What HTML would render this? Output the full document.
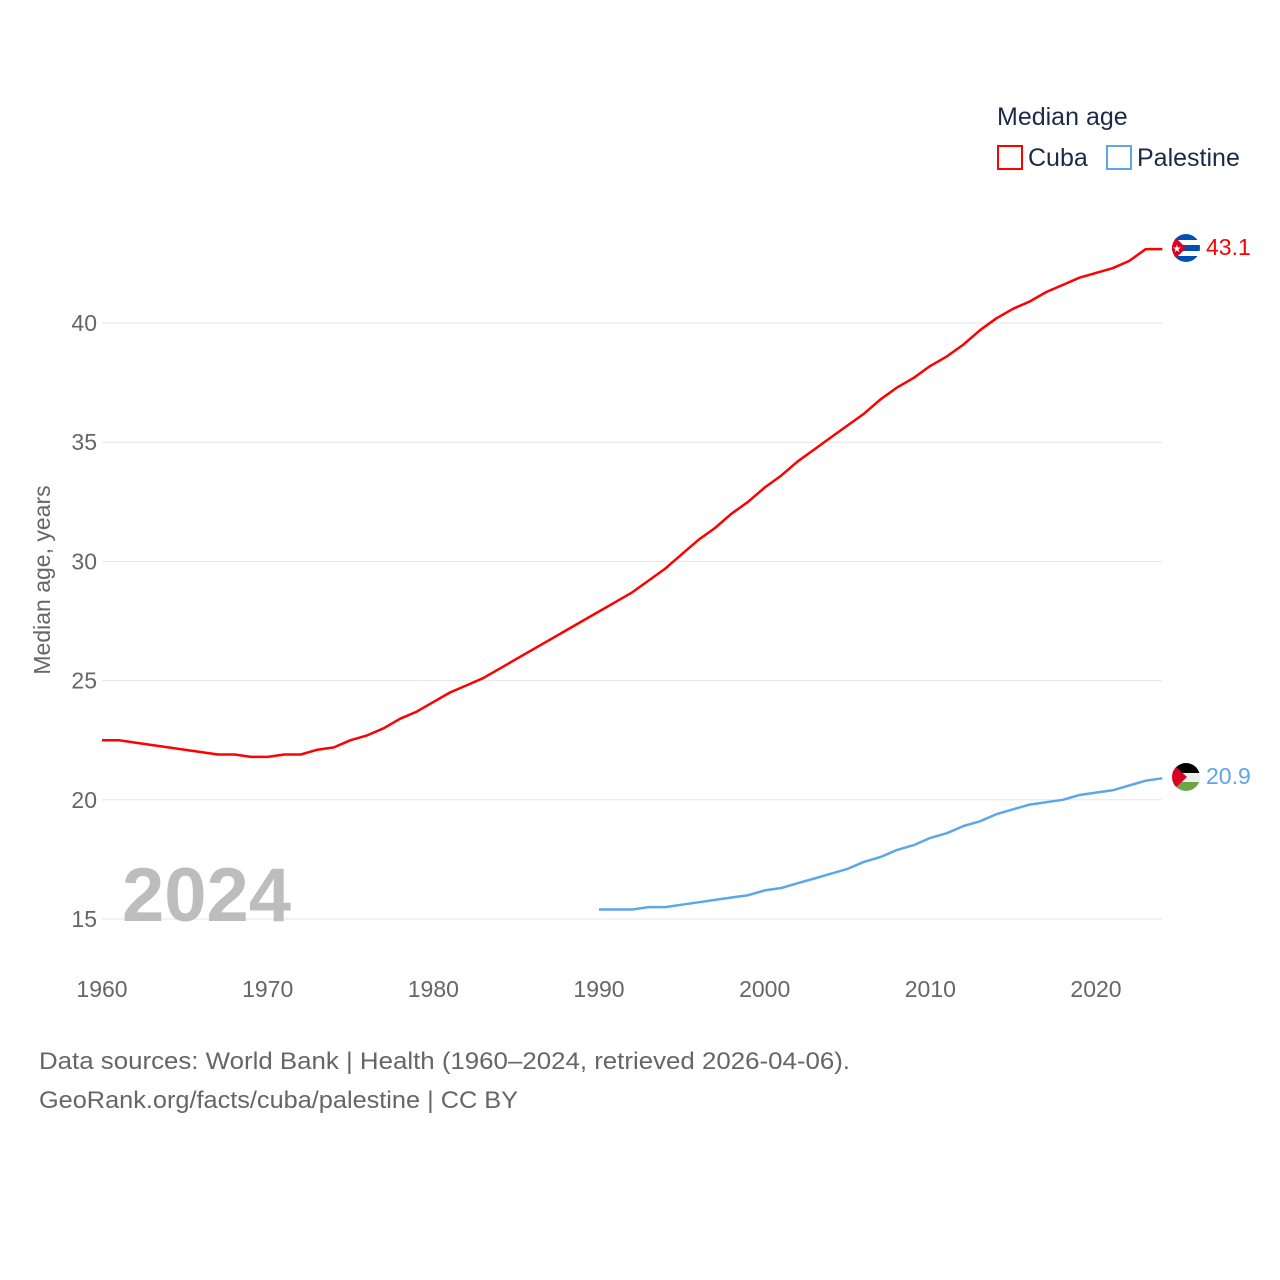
<!DOCTYPE html>
<html><head><meta charset="utf-8">
<style>
body{margin:0;background:#fff;font-family:"Liberation Sans",sans-serif;}
svg{display:block}
</style></head>
<body>
<svg id="chart" width="1280" height="1280" viewBox="0 0 1280 1280" xmlns="http://www.w3.org/2000/svg">
<defs>
<clipPath id="c1"><circle cx="1186" cy="248" r="14"/></clipPath>
<clipPath id="c2"><circle cx="1186" cy="777" r="14"/></clipPath>
</defs>
<g id="grid"></g>
<g id="yticks"></g>
<g id="xticks"></g>
<text transform="translate(50,580) rotate(-90)" text-anchor="middle" font-size="23" fill="#666">Median age, years</text>
<text x="122" y="921" font-size="76" font-weight="bold" fill="#bdbdbd">2024</text>
<g id="series"></g>
<g>
<text x="997" y="125" font-size="25" fill="#1b2a4a">Median age</text>
<g><rect x="998" y="146" width="24" height="23" fill="none" stroke="#ff0000" stroke-width="2"/><text x="1028" y="166" font-size="25" fill="#1b2a4a">Cuba</text></g>
<g><rect x="1107" y="146" width="24" height="23" fill="none" stroke="#5ea6ea" stroke-width="2"/><text x="1137" y="166" font-size="25" fill="#1b2a4a">Palestine</text></g>
</g>
<g clip-path="url(#c1)">
<rect x="1172" y="234" width="28" height="28" fill="#fff"/>
<rect x="1172" y="234" width="28" height="6" fill="#0050b4"/>
<rect x="1172" y="245" width="28" height="6" fill="#0050b4"/>
<rect x="1172" y="256" width="28" height="6" fill="#0050b4"/>
<polygon points="1172,234 1186,248 1172,262" fill="#d80027"/>
<text x="1177" y="252" font-size="10" fill="#fff" text-anchor="middle">★</text>
</g>
<text x="1206" y="255" font-size="23" fill="#ff0000">43.1</text>
<g clip-path="url(#c2)">
<rect x="1172" y="763" width="28" height="10" fill="#000"/>
<rect x="1172" y="773" width="28" height="9" fill="#eee"/>
<rect x="1172" y="782" width="28" height="10" fill="#6da544"/>
<polygon points="1172,763 1187,777 1172,791" fill="#d80027"/>
</g>
<text x="1206" y="784" font-size="23" fill="#5ea6ea">20.9</text>
<text x="39" y="1069" font-size="24" fill="#666" textLength="811" lengthAdjust="spacingAndGlyphs">Data sources: World Bank | Health (1960–2024, retrieved 2026-04-06).</text>
<text x="39" y="1108" font-size="24" fill="#666" textLength="479" lengthAdjust="spacingAndGlyphs">GeoRank.org/facts/cuba/palestine | CC BY</text>
</svg>
<script>
const yTicks=[15,20,25,30,35,40];
const xTicks=[1960,1970,1980,1990,2000,2010,2020];
const cubaYears=[];for(let y=1960;y<=2024;y++)cubaYears.push(y);
const cubaValues=[22.5,22.5,22.4,22.3,22.2,22.1,22.0,21.9,21.9,21.8,21.8,21.9,21.9,22.1,22.2,22.5,22.7,23.0,23.4,23.7,24.1,24.5,24.8,25.1,25.5,25.9,26.3,26.7,27.1,27.5,27.9,28.3,28.7,29.2,29.7,30.3,30.9,31.4,32.0,32.5,33.1,33.6,34.2,34.7,35.2,35.7,36.2,36.8,37.3,37.7,38.2,38.6,39.1,39.7,40.2,40.6,40.9,41.3,41.6,41.9,42.1,42.3,42.6,43.1,43.1];
const palYears=[];for(let y=1990;y<=2024;y++)palYears.push(y);
const palValues=[15.4,15.4,15.4,15.5,15.5,15.6,15.7,15.8,15.9,16.0,16.2,16.3,16.5,16.7,16.9,17.1,17.4,17.6,17.9,18.1,18.4,18.6,18.9,19.1,19.4,19.6,19.8,19.9,20.0,20.2,20.3,20.4,20.6,20.8,20.9];
const X=y=>102+(y-1960)*(1096-102)/60;
const Y=v=>919-(v-15)*(919-323)/25;
const NS="http://www.w3.org/2000/svg";
function mk(t,a,p){const e=document.createElementNS(NS,t);for(const k in a)e.setAttribute(k,a[k]);p.appendChild(e);return e;}
const grid=document.getElementById('grid'),yt=document.getElementById('yticks'),xt=document.getElementById('xticks');
yTicks.forEach(v=>{
 const l=mk('line',{x1:102,x2:1162,y1:Y(v),y2:Y(v),stroke:'#e6e6e6','stroke-width':1},grid);
 
 
 const t=mk('text',{x:97,y:Y(v)+8,'text-anchor':'end','font-size':23,fill:'#666'},yt);t.textContent=v;
 
 
});
xTicks.forEach(v=>{
 const t=mk('text',{x:X(v),y:997,'text-anchor':'middle','font-size':23,fill:'#666'},xt);t.textContent=v;
 
 
});
const s=document.getElementById('series');
function line(xs,vs,c,n){
 const m=Math.min(xs.length,vs.length);
 let d='';
 for(let i=0;i<m;i++)d+=(i?'L':'M')+X(xs[i]).toFixed(1)+','+Y(vs[i]).toFixed(1);
 const p=mk('path',{d:d,fill:'none',stroke:c,'stroke-width':2.5,'stroke-linejoin':'round'},s);
 
 
}
line(cubaYears,cubaValues,'#ff0000','cuba-line');
line(palYears,palValues,'#5ea6ea','palestine-line');
</script>
</body></html>
